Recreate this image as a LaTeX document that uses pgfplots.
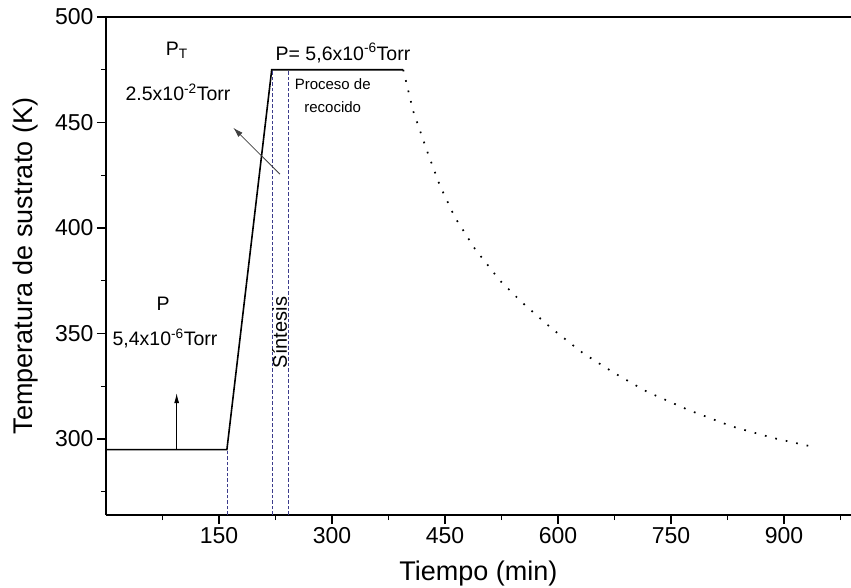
\documentclass[border=0pt]{standalone}
\usepackage{fontspec}
\setmainfont{Liberation Sans}
\usepackage{pgfplots}
\pgfplotsset{compat=1.18}
\usetikzlibrary{arrows.meta}
\definecolor{dblue}{RGB}{60,60,140}
\begin{document}
\begin{tikzpicture}
\begin{axis}[
  scale only axis,
  width=745bp, height=498bp,
  xmin=0, xmax=989, ymin=264, ymax=500,
  axis lines*=left,
  axis line style={-, line width=1.4bp},
  tick align=outside,
  xtick={150,300,...,900}, minor xtick={75,225,...,975},
  ytick={300,350,...,500}, minor ytick={275,325,...,475},
  major tick length=9bp, minor tick length=5bp,
  every tick/.style={black, line width=1.1bp},
  tick label style={font=\fontsize{23bp}{27bp}\selectfont},
  /pgf/number format/assume math mode=true,
  xlabel={Tiempo (min)},
  ylabel={Temperatura de sustrato (K)},
  label style={font=\fontsize{27bp}{31bp}\selectfont},
  xlabel style={at={(axis description cs:0.5,0)}, anchor=base, yshift=-65bp},
  ylabel style={at={(axis description cs:0,0.5)}, anchor=center, yshift=80bp},
  clip=false,
]
\draw[line width=1.4bp] (rel axis cs:0,1) -- (rel axis cs:1,1);

% heating and synthesis
\addplot[black, line width=1.6bp] coordinates {(0,295) (160.5,295) (220,475) (394.6,475)};

% cooling
\addplot[black, line width=1.7bp, dash pattern=on 1.7bp off 9bp] coordinates {
(394.6,475) (407.9,455.3) (427.8,434.9) (443.4,420.0) (463.3,405.0)
(489.8,390.1) (523.0,375.1) (551.8,364.9) (591.6,352.4) (633.6,340.6)
(675.6,331.1) (717.7,322.5) (773.0,313.8) (830.6,306.0) (885.7,300.5)
(941.1,296.1)};

% guide lines
\addplot[dblue, line width=0.8bp, dash pattern=on 3.5bp off 2bp] coordinates {(160.6,264) (160.6,295)};
\addplot[dblue, line width=0.8bp, dash pattern=on 3.5bp off 2bp] coordinates {(220.7,264) (220.7,475)};
\addplot[dblue, line width=0.8bp, dash pattern=on 3.5bp off 2bp] coordinates {(242,264) (242,475)};

% annotations
\draw[-{Latex[length=10bp,width=6bp]}, line width=0.8bp, black!75] (axis cs:231,425.5) -- (axis cs:169,447.5);
\draw[-{Latex[length=10bp,width=5bp]}, line width=0.8bp] (axis cs:93.8,295) -- (axis cs:93.8,321.7);

\begin{scope}[every node/.style={font=\fontsize{19.5bp}{23bp}\selectfont, inner sep=0pt}]
\node at (axis cs:94,484.4) {P\textsubscript{T}};
\node at (axis cs:95.6,464.2) {2.5x10\textsuperscript{-2}Torr};
\node at (axis cs:314.6,483) {P= 5,6x10\textsuperscript{-6}Torr};
\node at (axis cs:76,364) {P};
\node at (axis cs:78.3,347.6) {5,4x10\textsuperscript{-6}Torr};
\node[rotate=90, font=\fontsize{20bp}{23bp}\selectfont] at (axis cs:230.5,350.5) {Síntesis};
\end{scope}
\begin{scope}[every node/.style={font=\fontsize{15bp}{17bp}\selectfont, inner sep=0pt}]
\node at (axis cs:301,468) {Proceso de};
\node at (axis cs:301,457.5) {recocido};
\end{scope}
\end{axis}
\pgfresetboundingbox
\path[use as bounding box] (0,0) ++(-106bp,-73bp) rectangle (745bp,515bp);
\end{tikzpicture}
\end{document}
